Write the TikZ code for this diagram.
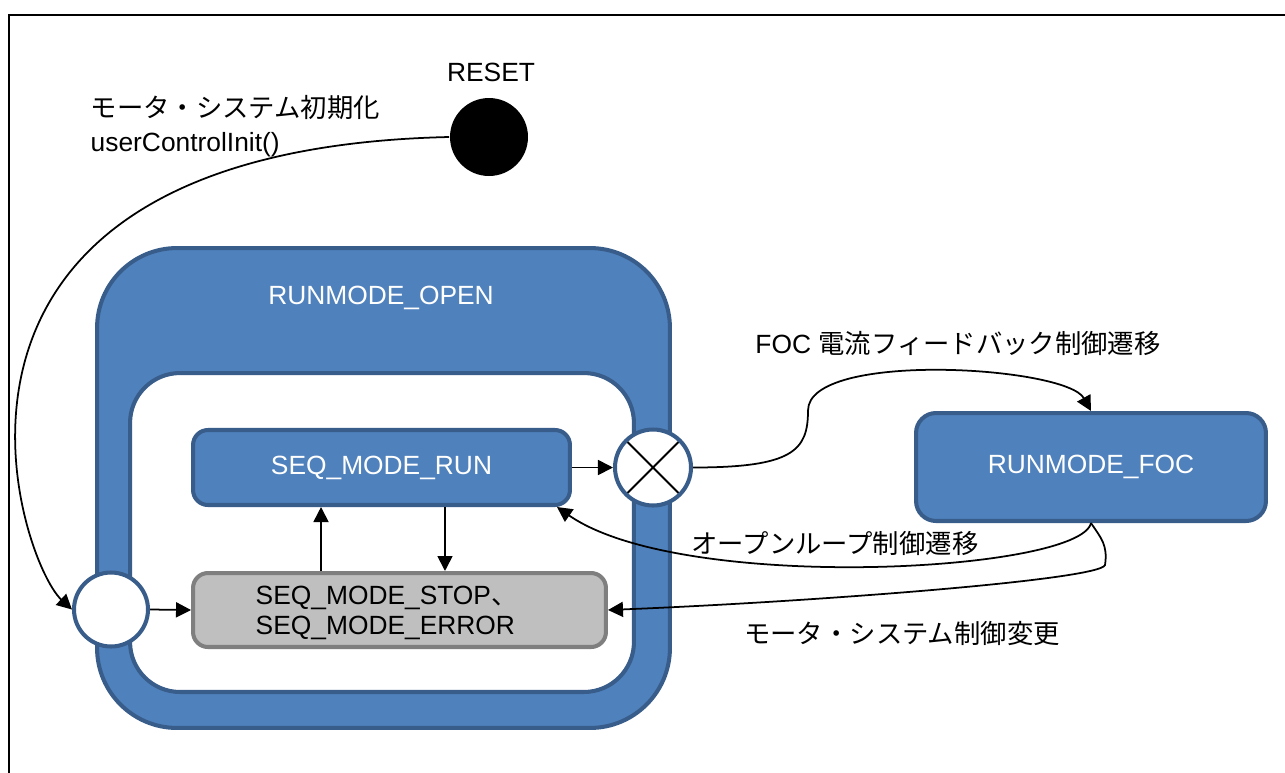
\documentclass[tikz,border=0pt]{standalone}
\usepackage{fontspec}
\setmainfont{Liberation Sans}
\newfontfamily\jp{Noto Sans CJK JP}
\usetikzlibrary{arrows.meta,positioning}
\definecolor{stblue}{HTML}{4F81BD}
\definecolor{stedge}{HTML}{385D8A}
\definecolor{stgray}{HTML}{BFBFBF}
\definecolor{stgrayedge}{HTML}{7F7F7F}

\begin{document}
\begin{tikzpicture}[->,>={Triangle[length=0.3cm,width=0.3cm]},line width=1pt,x=0.02cm,y=-0.02cm,
  font=\fontsize{15}{18}\selectfont]

    \tikzstyle{region}=[draw=stedge,line width=2.3pt,rectangle,inner sep=0pt]
    \tikzstyle{bluebox}=[region,fill=stblue,text=white]
    \tikzstyle{graybox}=[region,draw=stgrayedge,fill=stgray,rounded corners=0.3cm]
    \tikzstyle{pseudo}=[region,circle,fill=white]

    \path[use as bounding box] (0,0) rectangle (1285,772);
    \draw[-,line width=0.7pt] (9,790) -- (9,15) -- (1300,15);

    % RUNMODE_OPEN
    \node[bluebox,minimum width=11.46cm,minimum height=9.6cm,rounded corners=1.6cm] (open) at (383.5,488) {};
    \node[region,fill=white,minimum width=10.08cm,minimum height=6.38cm,rounded corners=1cm] (inner) at (382,532.5) {};
    \node[text=white] (openlabel) at (381,298) {RUNMODE\_OPEN};

    \node[bluebox,minimum width=7.54cm,minimum height=1.5cm,rounded corners=0.3cm] (run) at (381.5,467.5) {SEQ\_MODE\_RUN};
    \node[graybox,minimum width=8.26cm,minimum height=1.48cm] (stop) at (399.5,610) {};
    \node[align=left,anchor=west,font=\fontsize{15}{17.5}\selectfont] (stoplabel) at (249,613) {SEQ\_MODE\_STOP{\jp 、}\\SEQ\_MODE\_ERROR};

    \node[pseudo,minimum size=1.48cm] (entry) at (111,609.5) {};
    \node[pseudo,minimum size=1.52cm,path picture={\draw[-,draw=black,line width=1.1pt] (path picture bounding box.north west) -- (path picture bounding box.south east) (path picture bounding box.south west) -- (path picture bounding box.north east);}] (exit) at (653,467.5) {};

    % RUNMODE_FOC
    \node[bluebox,minimum width=7cm,minimum height=2.16cm,rounded corners=0.4cm] (foc) at (1091,467) {RUNMODE\_FOC};

    % RESET
    \node[circle,fill=black,minimum size=1.56cm] (reset) at (489,137) {};
    \node (resetlabel) at (491,72) {RESET};

    % labels
    \node[align=left,anchor=west,font=\fontsize{15}{19}\selectfont] (initlabel) at (84,126) {{\jp モータ・システム初期化}\\userControlInit()};
    \node (foclabel) at (958,343) {FOC {\jp 電流フィードバック制御遷移}};
    \node (openlooplabel) at (835,543) {\jp オープンループ制御遷移};
    \node (changelabel) at (902,633) {\jp モータ・システム制御変更};

    % transitions
    \draw (reset.west) .. controls +(-570,13) and +(-53,-49) .. (entry.west);
    \draw (entry.east) -- (stop.west);
    \draw ([xshift=-1.57cm]stop.north) -- ([xshift=-1.57cm]stop.north |- run.south);
    \draw ([xshift=1.27cm]run.south) -- ([xshift=1.27cm]run.south |- stop.north);
    \draw (run.east) -- (exit.west);
    \draw (exit.east) .. controls +(100,0) and +(0,40) .. ++(115,-57) .. controls +(0,-60) and +(-25,-45) .. (foc.north);
    \draw (foc.south) .. controls +(-11,49) and +(125,87) .. ([xshift=-0.3cm]run.south east);
    \draw (foc.south) .. controls +(10,15) and +(3,-20) .. ++(14,42) .. controls +(-5,15) and +(200,-8) .. (stop.east);
\end{tikzpicture}
\end{document}
